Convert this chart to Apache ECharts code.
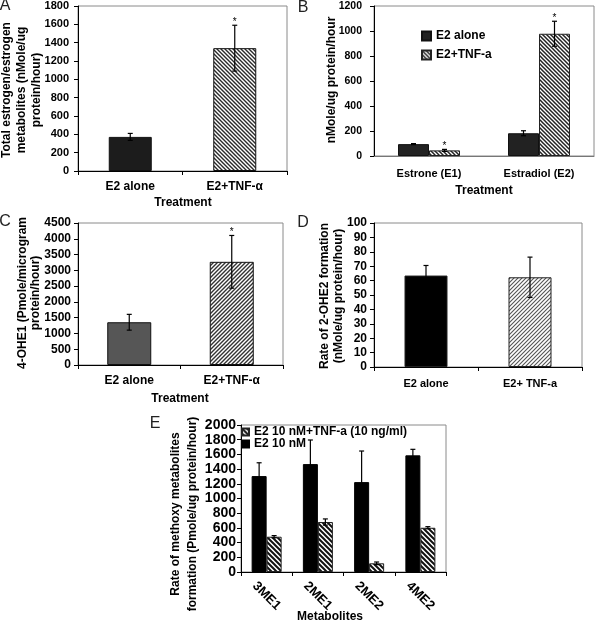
<!DOCTYPE html>
<html>
<head>
<meta charset="utf-8">
<script src="https://cdn.jsdelivr.net/npm/echarts@6/dist/echarts.min.js"></script>
<style>
html,body{margin:0;padding:0;background:#fff;}
#c{width:595px;height:622px;}
</style>
</head>
<body>
<div id="c"></div>
<script>
// ---------- DATA ----------
// Panel A
const catsA = ['E2 alone', 'E2+TNF-α'];
const valsA = [372, 1340];
const errA = [38, 250];
const sigA = [0, 1];
const ticksA = {min: 0, max: 1800, interval: 200};

// Panel B
const catsB = ['Estrone (E1)', 'Estradiol (E2)'];
const seriesB1Name = 'E2 alone';
const valsB1 = [95, 182];
const errB1 = [4, 20];
const sigB1 = [0, 0];
const seriesB2Name = 'E2+TNF-a';
const valsB2 = [45, 978];
const errB2 = [8, 100];
const sigB2 = [1, 1];
const ticksB = {min: 0, max: 1200, interval: 200};

// Panel C
const catsC = ['E2 alone', 'E2+TNF-α'];
const valsC = [1355, 3270];
const errC = [250, 835];
const sigC = [0, 1];
const ticksC = {min: 0, max: 4500, interval: 500};

// Panel D
const catsD = ['E2 alone', 'E2+ TNF-a'];
const valsD = [63.5, 62.3];
const errD = [7, 14];
const sigD = [0, 0];
const ticksD = {min: 0, max: 100, interval: 10};

// Panel E
const catsE = ['3ME1', '2ME1', '2ME2', '4ME2'];
const seriesE1Name = 'E2 10 nM';
const valsE1 = [1305, 1468, 1223, 1587];
const errE1 = [181, 328, 423, 82];
const seriesE2Name = 'E2 10 nM+TNF-a (10 ng/ml)';
const valsE2 = [480, 680, 118, 602];
const errE2 = [15, 42, 18, 15];
const ticksE = {min: 0, max: 2000, interval: 200};

// ---------- STYLE HELPERS ----------
const FONT = 'Liberation Sans, Arial, sans-serif';

function hatch(size, lw, color, dir) {
  const c = document.createElement('canvas');
  c.width = size; c.height = size;
  const g = c.getContext('2d');
  g.fillStyle = '#fff'; g.fillRect(0, 0, size, size);
  g.strokeStyle = color; g.lineWidth = lw; g.beginPath();
  if (dir === '/') {
    g.moveTo(-1, size + 1); g.lineTo(size + 1, -1);
    g.moveTo(-1, 1); g.lineTo(1, -1);
    g.moveTo(size - 1, size + 1); g.lineTo(size + 1, size - 1);
  } else {
    g.moveTo(-1, -1); g.lineTo(size + 1, size + 1);
    g.moveTo(size - 1, -1); g.lineTo(size + 1, 1);
    g.moveTo(-1, size - 1); g.lineTo(1, size + 1);
  }
  g.stroke();
  return {image: c, repeat: 'repeat'};
}

const hatchA = hatch(4, 1.4, '#2a2a2a', '\\');
const hatchB = hatch(4, 1.5, '#222', '\\');
const hatchC = hatch(4, 1.4, '#333', '/');
const hatchD = hatch(4, 1.1, '#555', '/');
const hatchE = hatch(5, 2, '#111', '\\');

function errRender(offsetPx, capW) {
  return function (params, api) {
    const cat = api.value(0), v = api.value(1), e = api.value(2), s = api.value(3);
    const top = api.coord([cat, v + e]);
    const bot = api.coord([cat, Math.max(0, v - e)]);
    const x = top[0] + offsetPx;
    const ls = {stroke: '#000', lineWidth: 1.2};
    const ch = [
      {type: 'line', shape: {x1: x, y1: top[1], x2: x, y2: bot[1]}, style: ls},
      {type: 'line', shape: {x1: x - capW, y1: top[1], x2: x + capW, y2: top[1]}, style: ls},
      {type: 'line', shape: {x1: x - capW, y1: bot[1], x2: x + capW, y2: bot[1]}, style: ls}
    ];
    if (s) {
      ch.push({type: 'text', style: {text: '*', x: x, y: top[1] + 2, align: 'center', verticalAlign: 'bottom',
        fontSize: 10, fontFamily: FONT, fill: '#000'}});
    }
    return {type: 'group', children: ch};
  };
}

function errData(vals, errs, sigs) {
  return vals.map((v, i) => [i, v, errs[i], sigs ? sigs[i] : 0]);
}

function errSeries(gi, vals, errs, sigs, offset, capW) {
  return {
    type: 'custom', xAxisIndex: gi, yAxisIndex: gi, z: 10,
    renderItem: errRender(offset, capW),
    data: errData(vals, errs, sigs),
    encode: {x: 0, y: 1}, silent: true
  };
}

function xAx(gi, cats, fs, margin, extra) {
  return Object.assign({
    type: 'category', gridIndex: gi, data: cats,
    axisLine: {lineStyle: {color: '#000', width: 1}},
    axisTick: {show: true, length: 4, lineStyle: {color: '#000'}},
    axisLabel: {fontFamily: FONT, fontWeight: 'bold', fontSize: fs, color: '#000', margin: margin, interval: 0},
    splitLine: {show: false}
  }, extra || {});
}

function yAx(gi, t, fs, margin) {
  return {
    type: 'value', gridIndex: gi, min: t.min, max: t.max, interval: t.interval,
    axisLine: {show: true, lineStyle: {color: '#000', width: 1}},
    axisTick: {show: true, length: 4, lineStyle: {color: '#000'}},
    axisLabel: {fontFamily: FONT, fontWeight: 'bold', fontSize: fs, color: '#000', margin: margin,
      formatter: function (v) { return String(v); }},
    splitLine: {show: false}
  };
}

const gridBase = {show: true, borderColor: '#8a8a8a', borderWidth: 1, backgroundColor: 'transparent', containLabel: false};

function txt(text, x, y, fs, opts) {
  return Object.assign({
    type: 'text', x: x, y: y,
    style: Object.assign({text: text, fontFamily: FONT, fontSize: fs, fontWeight: 'bold', fill: '#000',
      align: 'center', verticalAlign: 'middle'}, (opts && opts.style) || {}),
  }, opts && opts.rotation ? {rotation: opts.rotation} : {});
}

const R = Math.PI / 2;

const option = {
  animation: false,
  backgroundColor: '#fff',
  grid: [
    Object.assign({left: 78, top: 6, width: 209, height: 165}, gridBase),
    Object.assign({left: 374, top: 6, width: 220, height: 150}, gridBase),
    Object.assign({left: 78, top: 223, width: 205, height: 142}, gridBase),
    Object.assign({left: 374, top: 223, width: 208, height: 144}, gridBase),
    Object.assign({left: 241, top: 425, width: 205, height: 147}, gridBase)
  ],
  xAxis: [
    xAx(0, catsA, 12, 10),
    xAx(1, catsB, 11, 12, {axisTick: {show: false}, axisLine: {lineStyle: {color: '#777'}}}),
    xAx(2, catsC, 12, 10),
    xAx(3, catsD, 11, 11),
    xAx(4, catsE, 13, 18, {axisLabel: {fontFamily: FONT, fontWeight: 'bold', fontSize: 13, color: '#000',
      margin: 24, interval: 0, rotate: -45, align: 'center', verticalAlign: 'middle'}})
  ],
  yAxis: [
    yAx(0, ticksA, 11, 9),
    yAx(1, ticksB, 10.5, 12),
    yAx(2, ticksC, 12, 7),
    yAx(3, ticksD, 12, 7),
    yAx(4, ticksE, 14, 5)
  ],
  legend: [
    {data: [seriesB1Name, seriesB2Name], orient: 'vertical', left: 421, top: 30, itemWidth: 9, itemHeight: 9,
      itemGap: 7, padding: 0, icon: 'rect', selectedMode: false,
      textStyle: {fontFamily: FONT, fontWeight: 'bold', fontSize: 12, color: '#000'}},
    {data: [seriesE2Name, seriesE1Name], orient: 'vertical', left: 241, top: 426, itemWidth: 7, itemHeight: 7,
      itemGap: 0, padding: 0, icon: 'rect', selectedMode: false,
      textStyle: {fontFamily: FONT, fontWeight: 'bold', fontSize: 12, color: '#000'}}
  ],
  series: [
    // A
    {type: 'bar', name: 'A', xAxisIndex: 0, yAxisIndex: 0, barWidth: 43,
      data: valsA.map((v, i) => ({value: v, itemStyle: {color: [ '#1c1c1c', hatchA ][i], borderColor: '#111', borderWidth: 1}}))},
    errSeries(0, valsA, errA, sigA, 0, 2.5),
    // B
    {type: 'bar', name: seriesB1Name, xAxisIndex: 1, yAxisIndex: 1, barWidth: 31, barGap: '0%',
      itemStyle: {color: '#222', borderColor: '#111', borderWidth: 1}, data: valsB1},
    {type: 'bar', name: seriesB2Name, xAxisIndex: 1, yAxisIndex: 1, barWidth: 31, barGap: '0%',
      itemStyle: {color: hatchB, borderColor: '#222', borderWidth: 1}, data: valsB2},
    errSeries(1, valsB1, errB1, sigB1, -15.5, 2.5),
    errSeries(1, valsB2, errB2, sigB2, 15.5, 2.5),
    // C
    {type: 'bar', name: 'C', xAxisIndex: 2, yAxisIndex: 2, barWidth: 44,
      data: valsC.map((v, i) => ({value: v, itemStyle: {color: ['#565656', hatchC][i], borderColor: '#111', borderWidth: 1}}))},
    errSeries(2, valsC, errC, sigC, 0, 2.5),
    // D
    {type: 'bar', name: 'D', xAxisIndex: 3, yAxisIndex: 3, barWidth: 43,
      data: valsD.map((v, i) => ({value: v, itemStyle: {color: ['#000', hatchD][i], borderColor: '#222', borderWidth: 1}}))},
    errSeries(3, valsD, errD, sigD, 0, 2.5),
    // E
    {type: 'bar', name: seriesE1Name, xAxisIndex: 4, yAxisIndex: 4, barWidth: 15, barGap: '0%',
      itemStyle: {color: '#000', borderColor: '#000', borderWidth: 1}, data: valsE1},
    {type: 'bar', name: seriesE2Name, xAxisIndex: 4, yAxisIndex: 4, barWidth: 15, barGap: '0%',
      itemStyle: {color: hatchE, borderColor: '#222', borderWidth: 1}, data: valsE2},
    errSeries(4, valsE1, errE1, null, -7.5, 2.5),
    errSeries(4, valsE2, errE2, null, 7.5, 2.5)
  ],
  graphic: [
    txt('A', 5, 6, 16, {style: {fontWeight: 'normal', fill: '#222'}}),
    txt('B', 303, 8, 16, {style: {fontWeight: 'normal', fill: '#222'}}),
    txt('C', 5, 222, 16, {style: {fontWeight: 'normal', fill: '#222'}}),
    txt('D', 303, 223, 16, {style: {fontWeight: 'normal', fill: '#222'}}),
    txt('E', 155, 424, 16, {style: {fontWeight: 'normal', fill: '#222'}}),
    txt('Treatment', 183, 203, 12),
    txt('Treatment', 484, 191, 12),
    txt('Treatment', 180, 399, 12),
    txt('Metabolites', 330, 617, 12),
    txt('Total estrogen/estrogen\nmetabolites (nMole/ug\nprotein/hour)', 22, 90, 12, {rotation: R, style: {lineHeight: 15}}),
    txt('nMole/ug protein/hour', 332, 80, 12, {rotation: R}),
    txt('4-OHE1 (Pmole/microgram\nprotein/hour)', 29, 293, 12, {rotation: R, style: {lineHeight: 13}}),
    txt('Rate of 2-OHE2 formation\n(nMole/ug protein/hour)', 332, 296, 12, {rotation: R, style: {lineHeight: 14}}),
    txt('Rate of methoxy metabolites\nformation (Pmole/ug protein/hour)', 184, 514, 12, {rotation: R, style: {lineHeight: 17}})
  ]
};

const chart = echarts.init(document.getElementById('c'), null, {renderer: 'canvas'});
chart.setOption(option);
</script>
</body>
</html>
